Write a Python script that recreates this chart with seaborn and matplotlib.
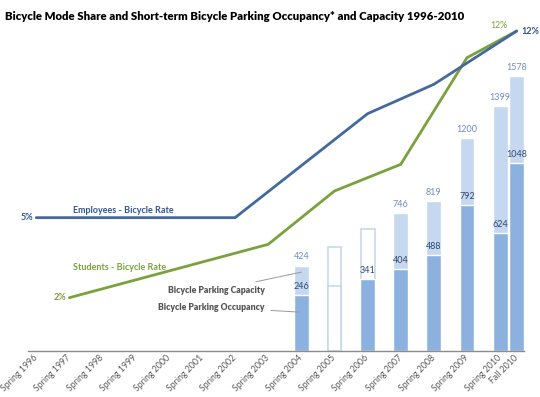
import pandas as pd
import matplotlib.pyplot as plt
import seaborn as sns

sns.set_style("white")
plt.rcParams['font.family'] = ['Lato', 'DejaVu Sans']

# x axis periods (Fall sits half a year after Spring)
periods = ["Spring 1996", "Spring 1997", "Spring 1998", "Spring 1999", "Spring 2000",
           "Spring 2001", "Spring 2002", "Spring 2003", "Spring 2004", "Spring 2005",
           "Spring 2006", "Spring 2007", "Spring 2008", "Spring 2009", "Spring 2010",
           "Fall 2010"]

# short-term bicycle parking (spaces)
park_periods = ["Spring 2004", "Spring 2005", "Spring 2006", "Spring 2007",
                "Spring 2008", "Spring 2009", "Spring 2010", "Fall 2010"]
capacity = [424, 537, 646, 746, 819, 1200, 1399, 1578]
occupancy = [246, 299, 341, 404, 488, 792, 624, 1048]
cap_unlabelled = ["Spring 2005", "Spring 2006"]
occ_unlabelled = ["Spring 2005"]

# bicycle mode share (%)
emp_periods = ["Spring 1996", "Spring 2002", "Spring 2006", "Spring 2008", "Fall 2010"]
emp_rate = [5, 5, 8.9, 10, 12]
stu_periods = ["Spring 1997", "Spring 2003", "Spring 2005", "Spring 2007", "Spring 2009", "Fall 2010"]
stu_rate = [2, 4, 6, 7, 11, 12]


def pos(p):
    season, year = p.split()
    return int(year) - 1996 + (0.5 if season == "Fall" else 0)


BLUE = "#44699d"
GREEN = "#7aa23c"
CAP = "#c6d8ef"
OCC = "#8db1df"

park = pd.DataFrame({"period": park_periods, "capacity": capacity, "occupancy": occupancy})
park["x"] = park["period"].map(pos)
park["cap_out"] = park["period"].isin(cap_unlabelled)
park["occ_out"] = park["period"].isin(occ_unlabelled)

fig = plt.figure(figsize=(5.4, 3.97), dpi=100)
ax = fig.add_axes([28 / 540, 46 / 397, 496 / 540, 320 / 397])
ax2 = ax.twinx()

ymin, ymax = -97, 1854
base = ymin
park["cap_h"] = park["capacity"] - base
park["occ_h"] = park["occupancy"] - base

solid_cap = park[~park["cap_out"]]
out_cap = park[park["cap_out"]]
solid_occ = park[~park["occ_out"]]
out_occ = park[park["occ_out"]]

# solid subsets contain the half-year gap, so 0.9 of it is 0.45 of a year
sns.barplot(data=solid_cap, x="x", y="cap_h", native_scale=True, width=0.9,
            color=CAP, saturation=1, bottom=base, ax=ax)
sns.barplot(data=out_cap, x="x", y="cap_h", native_scale=True, width=0.42,
            facecolor="white", edgecolor=CAP, linewidth=1.2, bottom=base, ax=ax)
sns.barplot(data=solid_occ, x="x", y="occ_h", native_scale=True, width=0.9,
            color=OCC, saturation=1, bottom=base, ax=ax)
sns.barplot(data=out_occ, x="x", y="occ_h", native_scale=True, width=0.42,
            facecolor="white", edgecolor=CAP, linewidth=1.2, bottom=base, ax=ax)

for _, r in solid_cap.iterrows():
    ax.text(r["x"], r["capacity"] + 25, str(r["capacity"]), ha="center", va="bottom",
            fontsize=6.5, color="#6d8cc4")
for _, r in solid_occ.iterrows():
    ax.text(r["x"], r["occupancy"] + 25, str(r["occupancy"]), ha="center", va="bottom",
            fontsize=6.5, color="#2f4a74")

ax.annotate("Bicycle Parking Capacity", xy=(8.0, 384), xytext=(6.9, 274),
            ha="right", va="center", fontsize=6.2, fontweight="heavy", color="#555555",
            arrowprops=dict(arrowstyle="-", color="#999999", lw=0.7, shrinkA=2, shrinkB=0))
ax.annotate("Bicycle Parking Occupancy", xy=(7.95, 140), xytext=(6.9, 171),
            ha="right", va="center", fontsize=6.2, fontweight="heavy", color="#555555",
            arrowprops=dict(arrowstyle="-", color="#999999", lw=0.7, shrinkA=2, shrinkB=0))

# mode share lines
emp = pd.DataFrame({"x": [pos(p) for p in emp_periods], "rate": emp_rate})
stu = pd.DataFrame({"x": [pos(p) for p in stu_periods], "rate": stu_rate})
sns.lineplot(data=stu, x="x", y="rate", color=GREEN, lw=2.0, ax=ax2, clip_on=False)
sns.lineplot(data=emp, x="x", y="rate", color=BLUE, lw=2.0, ax=ax2, clip_on=False)

ax2.text(1.1, 5.28, "Employees - Bicycle Rate", fontsize=6.5, fontweight="bold",
         color="#2f5597", ha="left", va="center")
ax2.text(1.1, 3.15, "Students - Bicycle Rate", fontsize=6.5, fontweight="bold",
         color=GREEN, ha="left", va="center")
ax2.text(-0.1, 5, "5%", fontsize=6.5, fontweight="bold", color="#2f5597", ha="right", va="center")
ax2.text(0.9, 2, "2%", fontsize=6.5, fontweight="bold", color=GREEN, ha="right", va="center")
ax2.text(13.95, 12.05, "12%", fontsize=6.3, color=GREEN, ha="center", va="bottom")
ax2.text(14.65, 12, "12%", fontsize=6.5, fontweight="bold", color="#2f5597", ha="left", va="center")

ax.set_xlim(-0.25, 14.72)
ax.set_ylim(ymin, ymax)
ax2.set_ylim(0, 12)

ax.set_xticks([pos(p) for p in periods])
ax.set_xticklabels(periods, rotation=45, ha="right", va="center", rotation_mode="anchor",
                   fontsize=6.3, color="#595959")
ax.tick_params(axis="x", length=0, pad=4)
ax.set_yticks([])
ax2.set_yticks([])
ax.set_xlabel("")
ax.set_ylabel("")
ax2.set_xlabel("")
ax2.set_ylabel("")
for a in (ax, ax2):
    for s in ("top", "right", "left", "bottom"):
        a.spines[s].set_visible(False)
ax.spines["bottom"].set_visible(True)
ax.spines["bottom"].set_color("#8c8c8c")
ax.spines["bottom"].set_linewidth(1.0)

fig.text(5 / 540, 1 - 17 / 397,
         "Bicycle Mode Share and Short-term Bicycle Parking Occupancy* and Capacity 1996-2010",
         fontsize=8.2, fontweight="heavy", color="black", ha="left", va="center")

fig.savefig("out.png", dpi=100)
